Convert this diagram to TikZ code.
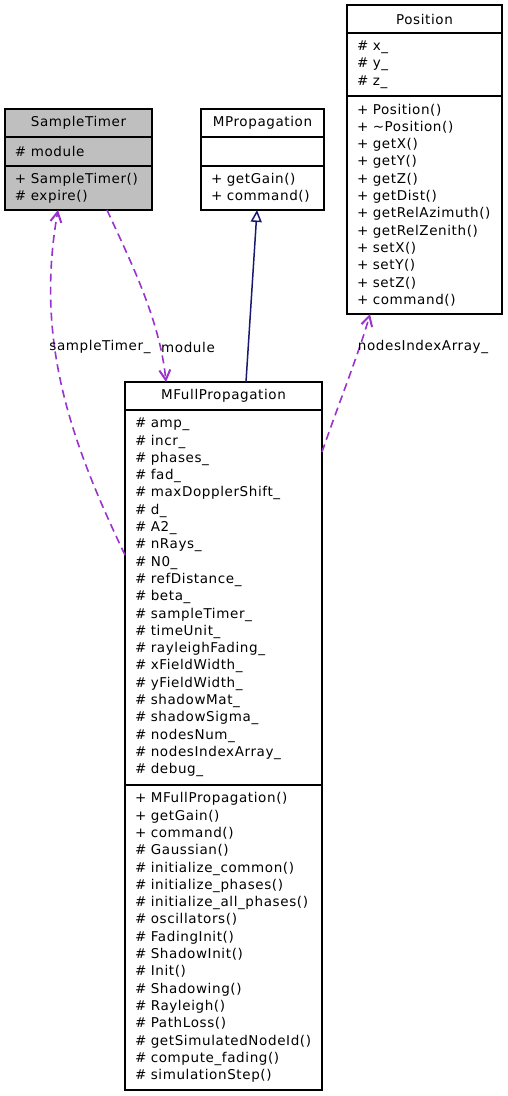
\documentclass[tikz,border=0pt]{standalone}
\usepackage{fontspec}
\setmainfont[LetterSpace=4.5]{DejaVu Sans}
\usetikzlibrary{arrows.meta,positioning}
\definecolor{membergray}{HTML}{BFBFBF}
\definecolor{usecolor}{HTML}{9A32CD}
\definecolor{inhcolor}{HTML}{191970}
\newcommand{\umlfont}{\fontsize{13.5}{17.3}\selectfont}

\begin{document}
\begin{tikzpicture}[x=1pt,y=-1pt,node distance=0pt,
    compartment/.style={draw,line width=1.4pt,outer sep=0pt,inner xsep=10pt,inner ysep=0pt,font=\umlfont,align=left},
    classname/.style={compartment,align=center},
    uses/.style={usecolor,line width=1.6pt,dash pattern=on 8pt off 5pt,-{Straight Barb[length=10pt,width=11pt,line width=2pt]}},
    inherits/.style={inhcolor,line width=1.5pt,-{Triangle[open,length=12pt,width=11pt,fill=white]}},
    role/.style={font=\umlfont,inner sep=1pt}]
  \useasboundingbox (0,0) rectangle (508,1096);
  % SampleTimer
  \node[classname,fill=membergray,text width=127pt,minimum height=28pt,anchor=north west] (st) at (5,109) {SampleTimer};
  \node[compartment,fill=membergray,text width=127pt,minimum height=29pt,below=of st] (sta) {\# module};
  \node[compartment,fill=membergray,text width=127pt,minimum height=44pt,below=of sta] (stm) {+ SampleTimer()\\\# expire()};
  % MPropagation
  \node[classname,text width=103pt,minimum height=28pt,anchor=north west] (mp) at (201,109) {MPropagation};
  \node[compartment,text width=103pt,minimum height=29pt,below=of mp] (mpa) {};
  \node[compartment,text width=103pt,minimum height=44pt,below=of mpa] (mpm) {+ getGain()\\+ command()};
  % Position
  \node[classname,text width=135pt,minimum height=28pt,anchor=north west] (pos) at (347,5) {Position};
  \node[compartment,text width=135pt,minimum height=63pt,below=of pos] (posa) {\# x\_\\\# y\_\\\# z\_};
  \node[compartment,text width=135pt,minimum height=218pt,below=of posa] (posm) {+ Position()\\+ \textasciitilde Position()\\+ getX()\\+ getY()\\+ getZ()\\+ getDist()\\+ getRelAzimuth()\\+ getRelZenith()\\+ setX()\\+ setY()\\+ setZ()\\+ command()};
  % MFullPropagation
  \node[classname,text width=177pt,minimum height=28pt,anchor=north west] (mf) at (125,382) {MFullPropagation};
  \node[compartment,text width=177pt,minimum height=375pt,below=of mf] (mfa) {\# amp\_\\\# incr\_\\\# phases\_\\\# fad\_\\\# maxDopplerShift\_\\\# d\_\\\# A2\_\\\# nRays\_\\\# N0\_\\\# refDistance\_\\\# beta\_\\\# sampleTimer\_\\\# timeUnit\_\\\# rayleighFading\_\\\# xFieldWidth\_\\\# yFieldWidth\_\\\# shadowMat\_\\\# shadowSigma\_\\\# nodesNum\_\\\# nodesIndexArray\_\\\# debug\_};
  \node[compartment,text width=177pt,minimum height=305pt,below=of mfa] (mfm) {+ MFullPropagation()\\+ getGain()\\+ command()\\\# Gaussian()\\\# initialize\_common()\\\# initialize\_phases()\\\# initialize\_all\_phases()\\\# oscillators()\\\# FadingInit()\\\# ShadowInit()\\\# Init()\\\# Shadowing()\\\# Rayleigh()\\\# PathLoss()\\\# getSimulatedNodeId()\\\# compute\_fading()\\\# simulationStep()};
  % connectors
  \draw[inherits] ([xshift=121pt]mf.north west) -- ([xshift=56pt]mpm.south west);
  \draw[uses] ([xshift=102pt]stm.south west) .. controls (130,260) and (160,320) .. ([xshift=41pt]mf.north west);
  \draw[uses] ([yshift=42.5pt]mfa.west) .. controls (70,440) and (35,340) .. ([xshift=53pt]stm.south west);
  \draw[uses] ([yshift=145.5pt]mfa.east) .. controls (340,400) and (360,350) .. ([xshift=23pt]posm.south west);
  \node[role] (lbtimer) at (100,347) {sampleTimer\_};
  \node[role] (lbmodule) at (188,347) {module};
  \node[role] (lbindex) at (423,347) {nodesIndexArray\_};
\end{tikzpicture}
\end{document}
